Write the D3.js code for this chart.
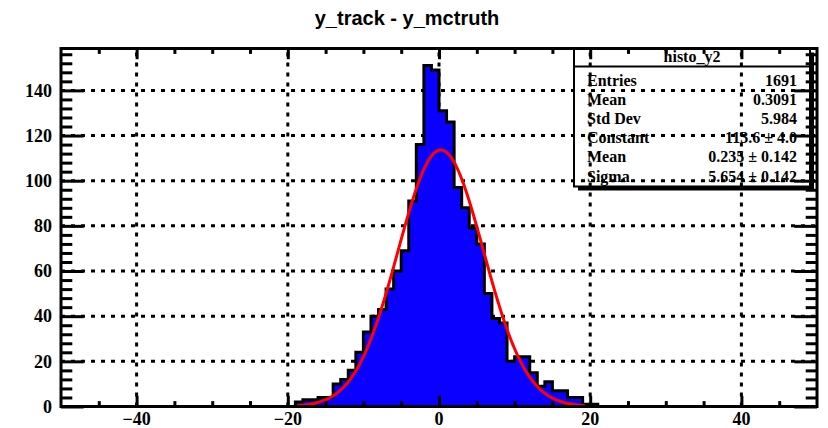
<!DOCTYPE html>
<html><head><meta charset="utf-8">
<script src="https://cdn.jsdelivr.net/npm/d3@7"></script>
<style>body{margin:0;background:#fff}svg{display:block}</style>
</head><body>
<svg id="c" width="828" height="428"></svg>
<script>
// ---- data ----
const binLow = [-19,-18,-17,-16,-15,-14,-13,-12,-11,-10,-9,-8,-7,-6,-5,-4,-3,-2,-1,0,
                1,2,3,4,5,6,7,8,9,10,11,12,13,14,15,16,17,18,19,20];
const counts = [2,3,3,4,4,10,12,16,24,33,40,43,52,60,69,91,116,151,149,131,
                126,97,88,79,72,50,39,37,20,22,22,15,9,11,7,7,4,4,1,1];
const binWidth = 1;
const fitNames = ["Constant","Mean","Sigma"];
const fitValues = [113.6, 0.235, 5.654];
const fitErrors = ["4.0","0.142","0.142"];
const fitRange = [-18.8, 19.3];
const xDomain = [-50, 50];
const yMax = 158.55;
const xTickLabels = [-40,-20,0,20,40];
const yTickLabels = [0,20,40,60,80,100,120,140];
const statsTitle = "histo_y2";
const statsNames = ["Entries","Mean","Std Dev"];
const statsVals = ["1691","0.3091","5.984"];
const title = "y_track - y_mctruth";

// ---- layout ----
const L = 61, R = 817, T = 48.5, B = 406.5;
const x = d3.scaleLinear().domain(xDomain).range([L, R]);
const y = d3.scaleLinear().domain([0, yMax]).range([B, T]);
const svg = d3.select('#c');

// grid
const grid = svg.append('g').attr('stroke','#000').attr('stroke-width',3).attr('stroke-dasharray','4,6');
grid.selectAll('line.gx').data(xTickLabels).join('line').attr('class','gx')
  .attr('x1',d=>x(d)).attr('x2',d=>x(d)).attr('y1',B).attr('y2',T);
grid.selectAll('line.gy').data(yTickLabels.filter(d=>d>0)).join('line').attr('class','gy')
  .attr('x1',L).attr('x2',R).attr('y1',d=>y(d)).attr('y2',d=>y(d));

// histogram
const pts = binLow.map((b,i)=>({x:b, y:counts[i]}));
pts.push({x: binLow[binLow.length-1]+binWidth, y: counts[counts.length-1]});
svg.append('path').datum(pts)
  .attr('d', d3.area().curve(d3.curveStepAfter).x(d=>x(d.x)).y0(y(0)).y1(d=>y(d.y)))
  .attr('fill','#0a00ff');
const outline = [{x: binLow[0], y: 0}, ...pts, {x: pts[pts.length-1].x, y: 0}];
svg.append('path').datum(outline)
  .attr('d', d3.line().curve(d3.curveStepAfter).x(d=>x(d.x)).y(d=>y(d.y)))
  .attr('fill','none').attr('stroke','#000').attr('stroke-width',3);

// fit curve
const [C, mu, sg] = fitValues;
const fitPts = d3.range(fitRange[0], fitRange[1] + 1e-9, 0.1)
  .map(v => ({x: v, y: C*Math.exp(-0.5*((v-mu)/sg)**2)}));
svg.append('path').datum(fitPts)
  .attr('d', d3.line().x(d=>x(d.x)).y(d=>y(d.y)))
  .attr('fill','none').attr('stroke','#ff0000').attr('stroke-width',3);

// axes ticks
const xMinor = d3.range(-45, 50, 5).filter(v => v % 20 !== 0);
const yMinor = d3.range(4, yMax, 4).filter(v => v % 20 !== 0);
const tickStyle = g => { g.select('.domain').remove(); g.selectAll('line').attr('stroke','#000').attr('stroke-width',3); g.selectAll('text').remove(); };
svg.append('g').attr('transform',`translate(0,${B})`).call(d3.axisBottom(x).tickValues(xTickLabels).tickSize(-10.7)).call(tickStyle);
svg.append('g').attr('transform',`translate(0,${B})`).call(d3.axisBottom(x).tickValues(xMinor).tickSize(-5.4)).call(tickStyle);
svg.append('g').attr('transform',`translate(0,${T})`).call(d3.axisTop(x).tickValues(xTickLabels).tickSize(-10.7)).call(tickStyle);
svg.append('g').attr('transform',`translate(0,${T})`).call(d3.axisTop(x).tickValues(xMinor).tickSize(-5.4)).call(tickStyle);
svg.append('g').attr('transform',`translate(${L},0)`).call(d3.axisLeft(y).tickValues(yTickLabels).tickSize(-22.7)).call(tickStyle);
svg.append('g').attr('transform',`translate(${L},0)`).call(d3.axisLeft(y).tickValues(yMinor).tickSize(-11.3)).call(tickStyle);
svg.append('g').attr('transform',`translate(${R},0)`).call(d3.axisRight(y).tickValues(yTickLabels).tickSize(-22.7)).call(tickStyle);
svg.append('g').attr('transform',`translate(${R},0)`).call(d3.axisRight(y).tickValues(yMinor).tickSize(-11.3)).call(tickStyle);

// frame
svg.append('rect').attr('x',L).attr('y',T).attr('width',R-L).attr('height',B-T)
  .attr('fill','none').attr('stroke','#000').attr('stroke-width',3);

// tick labels
const serif = "'Liberation Serif','Times New Roman',serif";
svg.append('g').selectAll('text').data(xTickLabels).join('text')
  .attr('x',d=>x(d)).attr('y',425).attr('text-anchor','middle')
  .attr('font-family',serif).attr('font-weight','bold').attr('font-size',18)
  .text(d => d < 0 ? '\u2212' + Math.abs(d) : d);
svg.append('g').selectAll('text').data(yTickLabels).join('text')
  .attr('x',52).attr('y',d=>y(d)).attr('dy','0.35em').attr('text-anchor','end')
  .attr('font-family',serif).attr('font-weight','bold').attr('font-size',18)
  .text(d=>d);

// title
svg.append('text').attr('x',407).attr('y',25).attr('text-anchor','middle')
  .attr('font-family',"'Liberation Sans',Arial,sans-serif").attr('font-weight','bold').attr('font-size',20)
  .text(title);

// stats box
const SL = 574, SR = 810, ST = T, SB = 186.5;
svg.append('rect').attr('x',SR).attr('y',ST+4).attr('width',4).attr('height',SB-ST).attr('fill','#000');
svg.append('rect').attr('x',SL+4).attr('y',SB).attr('width',SR-SL).attr('height',4).attr('fill','#000');
svg.append('rect').attr('x',SL).attr('y',ST).attr('width',SR-SL).attr('height',SB-ST)
  .attr('fill','none').attr('stroke','#000').attr('stroke-width',2);
svg.append('line').attr('x1',SL).attr('x2',SR).attr('y1',66.5).attr('y2',66.5).attr('stroke','#000').attr('stroke-width',2);
const st = svg.append('g').attr('font-family',serif).attr('font-weight','bold').attr('font-size',16);
st.append('text').attr('x',(SL+SR)/2).attr('y',62).attr('text-anchor','middle').text(statsTitle);
const rows = statsNames.map((n,i)=>({name:n, val:statsVals[i]}))
  .concat(fitNames.map((n,i)=>({name:n, val: fitValues[i] + ' \u00b1 ' + fitErrors[i]})));
rows.forEach((r,i)=>{
  const yy = 85.5 + i*19.2;
  st.append('text').attr('x',587).attr('y',yy).text(r.name);
  st.append('text').attr('x',797).attr('y',yy).attr('text-anchor','end').attr('xml:space','preserve').text(r.val);
});
</script>
</body></html>
